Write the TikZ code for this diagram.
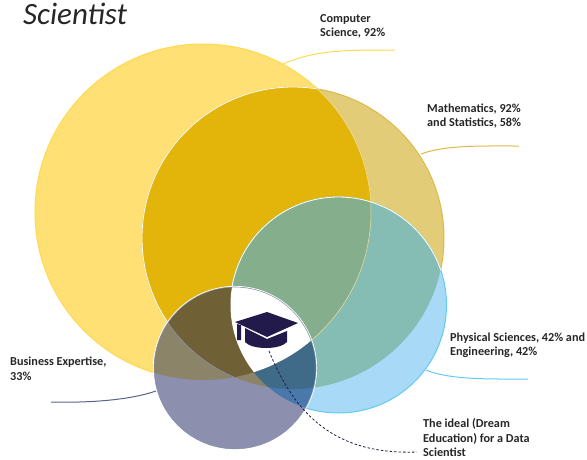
\documentclass[tikz,border=0pt]{standalone}
\usepackage{fontspec}
\setmainfont{Carlito}
\definecolor{csonly}{HTML}{FFE074}
\definecolor{csrim}{HTML}{FFD94F}
\definecolor{mathonly}{HTML}{E3CC78}
\definecolor{mathrim}{HTML}{DDB94A}
\definecolor{csmath}{HTML}{E3B50A}
\definecolor{physonly}{HTML}{A8DAF7}
\definecolor{physrim}{HTML}{62CBF4}
\definecolor{mathphys}{HTML}{85BDB5}
\definecolor{allthree}{HTML}{84AE8C}
\definecolor{busonly}{HTML}{8C90AE}
\definecolor{busrim}{HTML}{55648F}
\definecolor{buscs}{HTML}{8C8468}
\definecolor{buscsmath}{HTML}{6F6035}
\definecolor{busmathphys}{HTML}{3F6A88}
\definecolor{busphys}{HTML}{4A78AC}
\definecolor{capcol}{HTML}{211A4A}
\def\cscirc{(203,212) circle (168pt)}
\def\mathcirc{(293,238) circle (151pt)}
\def\physcirc{(338.5,305) circle (108pt)}
\def\buscirc{(235,368) circle (81pt)}
\begin{document}
\begin{tikzpicture}[x=1pt, y=-1pt,
	lbl/.style={anchor=north west, inner sep=0pt, align=left, text=black!85, font=\fontsize{12.2}{14.4}\selectfont\bfseries},
	leader/.style={line width=1pt},
	rim/.style={draw=white, line width=0.8pt}]
	\useasboundingbox (0,0) rectangle (587,459);
	% circles and their overlaps
	\fill[csonly, draw=csrim, line width=1pt] \cscirc;
	\fill[mathonly, draw=mathrim, line width=1pt] \mathcirc;
	\begin{scope}
		\clip \mathcirc;
		\fill[csmath] \cscirc;
	\end{scope}
	\begin{scope}
		\clip \cscirc;
		\draw[rim] \mathcirc;
	\end{scope}
	\fill[physonly, draw=physrim, line width=1pt] \physcirc;
	\begin{scope}
		\clip \physcirc;
		\fill[mathphys] \mathcirc;
		\clip \mathcirc;
		\fill[allthree] \cscirc;
	\end{scope}
	\begin{scope}
		\clip \mathcirc;
		\draw[rim] \physcirc;
		\draw[white!60!csmath, line width=0.5pt] \cscirc;
	\end{scope}
	\fill[busonly] \buscirc;
	\begin{scope}
		\clip \buscirc;
		\fill[buscs] \cscirc;
		\fill[buscs] \mathcirc;
		\fill[busphys] \physcirc;
		\begin{scope}
			\clip \mathcirc;
			\fill[busmathphys] \physcirc;
			\clip \cscirc;
			\fill[buscsmath] (0,0) rectangle (587,459);
			\fill[white] \physcirc;
		\end{scope}
		\begin{scope}
			\clip \cscirc;
			\draw[busonly, line width=0.6pt] \mathcirc;
		\end{scope}
	\end{scope}
	\draw[busrim!70!white, line width=0.7pt] \buscirc;
	\draw[white, line width=0.7pt] (235,368) circle (81.7pt);
	% graduation cap
	\fill[capcol] (235,322) -- (267,312) -- (298,323) -- (267,337) -- cycle;
	\fill[capcol] (237,324) -- (241,325) -- (241,340) -- (237,340) -- cycle;
	\fill[capcol] (245,328) -- (267,339) -- (287,331) -- (287,342) .. controls (280,350) and (252,350) .. (245,342) -- cycle;
	% labels
	\node[lbl] (comp) at (320,14) {Computer\\Science, 92\%};
	\node[lbl] (maths) at (427,103.5) {Mathematics, 92\%\\and Statistics, 58\%};
	\node[lbl] (phys) at (450,332.5) {Physical Sciences, 42\% and\\Engineering, 42\%};
	\node[lbl] (ideal) at (423,418.5) {The ideal (Dream\\Education) for a Data\\Scientist};
	\node[lbl] (bus) at (10,357) {Business Expertise,\\33\%};
	\node[anchor=north west, inner sep=0pt, font=\fontsize{31}{31}\selectfont\itshape, text=black!85] (title) at (23,3) {Scientist};
	% leader lines
	\coordinate (compa) at (283,64);
	\coordinate (compb) at (395,50);
	\coordinate (mathsa) at (421,154);
	\coordinate (mathsb) at (519,146);
	\coordinate (physa) at (426,370);
	\coordinate (physb) at (528,379);
	\coordinate (busa) at (156,391);
	\coordinate (busb) at (51,402);
	\coordinate (capa) at (269,351);
	\coordinate (capb) at (417,452);
	\draw[leader, color=csrim] (compa) .. controls (315,50) and (345,50) .. (compb);
	\draw[leader, color=mathrim] (mathsa) .. controls (445,145) and (480,146) .. (mathsb);
	\draw[leader, color=physrim] (physa) .. controls (450,380) and (490,379) .. (physb);
	\draw[leader, color=busrim] (busa) .. controls (130,400) and (90,403) .. (busb);
	\draw[capcol, dash pattern=on 2.5pt off 2pt, line width=0.8pt] (capa) .. controls (295,415) and (335,455) .. (capb);
\end{tikzpicture}
\end{document}
